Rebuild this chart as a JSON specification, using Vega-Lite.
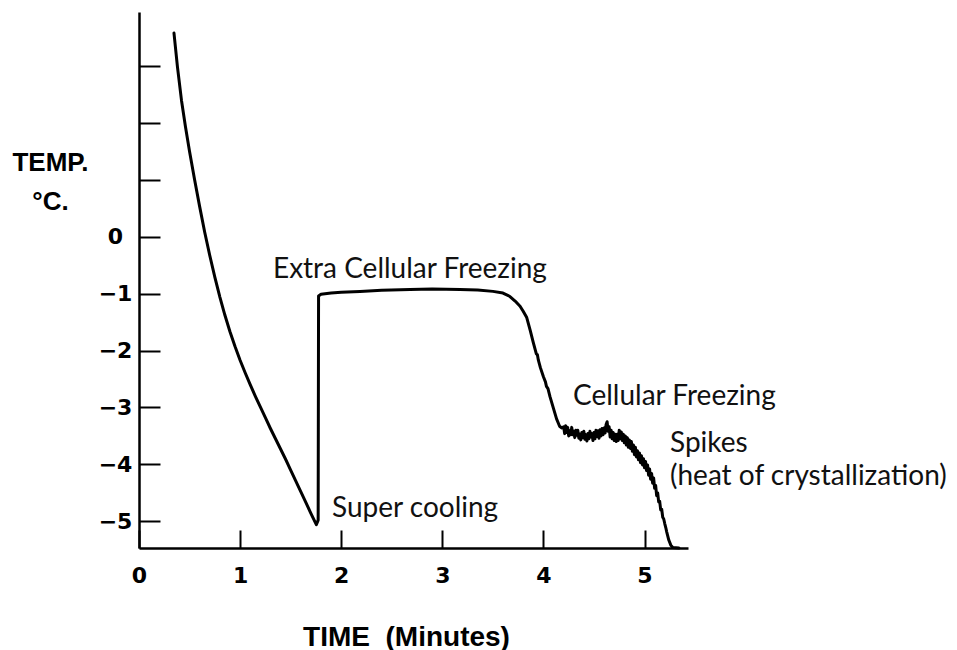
{
  "$schema": "https://vega.github.io/schema/vega-lite/v6.json",
  "width": 549,
  "height": 536,
  "autosize": {"type": "none"},
  "padding": {"left": 139, "top": 12, "right": 269, "bottom": 102},
  "background": "white",
  "config": {"view": {"stroke": null}},
  "datasets": {
    "curve": [
      {"time": 0.346, "temp": 3.58}, {"time": 0.38, "temp": 2.99}, {"time": 0.42, "temp": 2.4},
      {"time": 0.46, "temp": 1.93}, {"time": 0.5, "temp": 1.5}, {"time": 0.55, "temp": 1.0},
      {"time": 0.6, "temp": 0.53}, {"time": 0.65, "temp": 0.08}, {"time": 0.7, "temp": -0.33},
      {"time": 0.75, "temp": -0.71}, {"time": 0.8, "temp": -1.06}, {"time": 0.85, "temp": -1.38},
      {"time": 0.9, "temp": -1.67}, {"time": 0.95, "temp": -1.93}, {"time": 1.0, "temp": -2.17},
      {"time": 1.05, "temp": -2.39}, {"time": 1.1, "temp": -2.6}, {"time": 1.15, "temp": -2.8},
      {"time": 1.2, "temp": -2.99}, {"time": 1.25, "temp": -3.18}, {"time": 1.3, "temp": -3.37},
      {"time": 1.35, "temp": -3.55}, {"time": 1.4, "temp": -3.73}, {"time": 1.45, "temp": -3.91},
      {"time": 1.5, "temp": -4.1}, {"time": 1.55, "temp": -4.29}, {"time": 1.6, "temp": -4.48},
      {"time": 1.65, "temp": -4.67}, {"time": 1.7, "temp": -4.86}, {"time": 1.754, "temp": -5.06},
      {"time": 1.772, "temp": -4.98}, {"time": 1.776, "temp": -1.04}, {"time": 1.8, "temp": -1.01},
      {"time": 1.9, "temp": -0.99}, {"time": 2.0, "temp": -0.975}, {"time": 2.186, "temp": -0.96},
      {"time": 2.4, "temp": -0.94}, {"time": 2.681, "temp": -0.925}, {"time": 2.9, "temp": -0.92},
      {"time": 3.175, "temp": -0.925}, {"time": 3.35, "temp": -0.935}, {"time": 3.501, "temp": -0.96},
      {"time": 3.6, "temp": -0.99}, {"time": 3.669, "temp": -1.05}, {"time": 3.72, "temp": -1.13},
      {"time": 3.769, "temp": -1.22}, {"time": 3.8, "temp": -1.31}, {"time": 3.835, "temp": -1.42},
      {"time": 3.87, "temp": -1.65}, {"time": 3.9, "temp": -1.86}, {"time": 3.93, "temp": -2.06},
      {"time": 3.94, "temp": -2.07}, {"time": 3.95, "temp": -2.17}, {"time": 3.97, "temp": -2.3},
      {"time": 4.0, "temp": -2.46}, {"time": 4.02, "temp": -2.55}, {"time": 4.03, "temp": -2.63},
      {"time": 4.045, "temp": -2.67}, {"time": 4.065, "temp": -2.81}, {"time": 4.1, "temp": -3.02},
      {"time": 4.13, "temp": -3.2}, {"time": 4.16, "temp": -3.33}, {"time": 4.18, "temp": -3.36},
      {"time": 4.2, "temp": -3.34}, {"time": 4.21, "temp": -3.46}, {"time": 4.22, "temp": -3.32},
      {"time": 4.23, "temp": -3.44}, {"time": 4.24, "temp": -3.35}, {"time": 4.25, "temp": -3.5},
      {"time": 4.26, "temp": -3.41}, {"time": 4.27, "temp": -3.48}, {"time": 4.28, "temp": -3.35},
      {"time": 4.29, "temp": -3.48}, {"time": 4.3, "temp": -3.42}, {"time": 4.31, "temp": -3.53},
      {"time": 4.32, "temp": -3.4}, {"time": 4.33, "temp": -3.49}, {"time": 4.34, "temp": -3.4},
      {"time": 4.35, "temp": -3.54}, {"time": 4.36, "temp": -3.47}, {"time": 4.37, "temp": -3.57},
      {"time": 4.38, "temp": -3.44}, {"time": 4.39, "temp": -3.53}, {"time": 4.4, "temp": -3.42},
      {"time": 4.41, "temp": -3.56}, {"time": 4.42, "temp": -3.48}, {"time": 4.43, "temp": -3.59},
      {"time": 4.44, "temp": -3.46}, {"time": 4.45, "temp": -3.55}, {"time": 4.46, "temp": -3.42},
      {"time": 4.47, "temp": -3.52}, {"time": 4.48, "temp": -3.46}, {"time": 4.49, "temp": -3.58},
      {"time": 4.5, "temp": -3.44}, {"time": 4.51, "temp": -3.55}, {"time": 4.52, "temp": -3.4},
      {"time": 4.53, "temp": -3.51}, {"time": 4.54, "temp": -3.41}, {"time": 4.55, "temp": -3.54},
      {"time": 4.56, "temp": -3.39}, {"time": 4.57, "temp": -3.5}, {"time": 4.58, "temp": -3.37},
      {"time": 4.59, "temp": -3.48}, {"time": 4.6, "temp": -3.36}, {"time": 4.61, "temp": -3.45},
      {"time": 4.62, "temp": -3.3}, {"time": 4.63, "temp": -3.25}, {"time": 4.64, "temp": -3.42},
      {"time": 4.65, "temp": -3.34}, {"time": 4.66, "temp": -3.52}, {"time": 4.67, "temp": -3.4},
      {"time": 4.68, "temp": -3.55}, {"time": 4.69, "temp": -3.44}, {"time": 4.7, "temp": -3.58},
      {"time": 4.71, "temp": -3.47}, {"time": 4.72, "temp": -3.6}, {"time": 4.73, "temp": -3.47},
      {"time": 4.74, "temp": -3.58}, {"time": 4.75, "temp": -3.4}, {"time": 4.76, "temp": -3.55},
      {"time": 4.77, "temp": -3.43}, {"time": 4.78, "temp": -3.58}, {"time": 4.79, "temp": -3.47},
      {"time": 4.8, "temp": -3.62}, {"time": 4.81, "temp": -3.5}, {"time": 4.82, "temp": -3.66},
      {"time": 4.83, "temp": -3.53}, {"time": 4.84, "temp": -3.7}, {"time": 4.85, "temp": -3.57},
      {"time": 4.86, "temp": -3.72}, {"time": 4.87, "temp": -3.6}, {"time": 4.88, "temp": -3.77},
      {"time": 4.89, "temp": -3.66}, {"time": 4.9, "temp": -3.83}, {"time": 4.91, "temp": -3.7},
      {"time": 4.92, "temp": -3.87}, {"time": 4.93, "temp": -3.76}, {"time": 4.94, "temp": -3.92},
      {"time": 4.95, "temp": -3.8}, {"time": 4.96, "temp": -3.97}, {"time": 4.97, "temp": -3.85},
      {"time": 4.98, "temp": -4.01}, {"time": 4.99, "temp": -3.9}, {"time": 5.0, "temp": -4.06},
      {"time": 5.01, "temp": -3.95}, {"time": 5.02, "temp": -4.11}, {"time": 5.03, "temp": -4.01},
      {"time": 5.04, "temp": -4.19}, {"time": 5.05, "temp": -4.08}, {"time": 5.06, "temp": -4.26},
      {"time": 5.07, "temp": -4.16}, {"time": 5.08, "temp": -4.33}, {"time": 5.09, "temp": -4.24},
      {"time": 5.1, "temp": -4.42}, {"time": 5.11, "temp": -4.37}, {"time": 5.12, "temp": -4.55},
      {"time": 5.13, "temp": -4.5}, {"time": 5.14, "temp": -4.66}, {"time": 5.15, "temp": -4.65},
      {"time": 5.16, "temp": -4.8}, {"time": 5.17, "temp": -4.79}, {"time": 5.18, "temp": -4.93},
      {"time": 5.19, "temp": -4.96}, {"time": 5.2, "temp": -5.04}, {"time": 5.21, "temp": -5.11},
      {"time": 5.22, "temp": -5.19}, {"time": 5.23, "temp": -5.26}, {"time": 5.24, "temp": -5.33},
      {"time": 5.26, "temp": -5.42}, {"time": 5.28, "temp": -5.46}, {"time": 5.34, "temp": -5.47}
    ],
    "notes": [
      {"time": 1.325, "temp": -0.72, "label": "Extra Cellular Freezing"},
      {"time": 1.909, "temp": -4.92, "label": "Super cooling"},
      {"time": 4.293, "temp": -2.95, "label": "Cellular Freezing"},
      {"time": 5.252, "temp": -3.78, "label": "Spikes"},
      {"time": 5.252, "temp": -4.36, "label": "(heat of crystallization)"}
    ]
  },
  "layer": [
    {
      "data": {"name": "curve"},
      "mark": {"type": "line", "color": "#000", "strokeWidth": 3, "strokeJoin": "round", "strokeCap": "round"},
      "encoding": {
        "x": {
          "field": "time", "type": "quantitative",
          "scale": {"domain": [0, 5.43], "nice": false, "zero": false},
          "axis": {
            "title": "TIME\u00a0 (Minutes)",
            "values": [0, 1, 2, 3, 4, 5],
            "format": "d",
            "grid": false,
            "tickSize": -18, "tickWidth": 2, "tickColor": "#000",
            "domainColor": "#000", "domainWidth": 2.5,
            "labelFont": "DejaVu Sans", "labelFontWeight": "bold", "labelFontSize": 22,
            "labelColor": "#000", "labelPadding": 45, "labelBaseline": "middle",
            "labelFlush": false, "labelOverlap": false,
            "titleFont": "Liberation Sans", "titleFontWeight": "bold", "titleFontSize": 28,
            "titleColor": "#000", "titleX": 267, "titleY": 97,
            "titleBaseline": "alphabetic", "titleAlign": "center"
          }
        },
        "y": {
          "field": "temp", "type": "quantitative",
          "scale": {"domain": [-5.47, 3.95], "nice": false, "zero": false},
          "axis": {
            "title": ["TEMP.", "°C."],
            "values": [3, 2, 1, 0, -1, -2, -3, -4, -5],
            "format": "d",
            "labelExpr": "datum.value > 0 ? '' : datum.label",
            "grid": false,
            "tickSize": -21, "tickWidth": 2, "tickColor": "#000",
            "domainColor": "#000", "domainWidth": 2.5,
            "labelFont": "DejaVu Sans", "labelFontWeight": "bold", "labelFontSize": 22,
            "labelColor": "#000", "labelPadding": 45, "labelAlign": "center", "labelBaseline": "middle",
            "labelFlush": false, "labelOverlap": false,
            "titleFont": "Liberation Sans", "titleFontWeight": "bold", "titleFontSize": 26,
            "titleColor": "#000", "titleAngle": 0, "titleX": -89, "titleY": 158,
            "titleAlign": "center", "titleBaseline": "alphabetic", "titleLineHeight": 39
          }
        }
      }
    },
    {
      "data": {"name": "notes"},
      "mark": {"type": "text", "align": "left", "baseline": "alphabetic", "font": "Lato", "fontSize": 28, "color": "#111"},
      "encoding": {
        "x": {"field": "time", "type": "quantitative"},
        "y": {"field": "temp", "type": "quantitative"},
        "text": {"field": "label"}
      }
    }
  ]
}
